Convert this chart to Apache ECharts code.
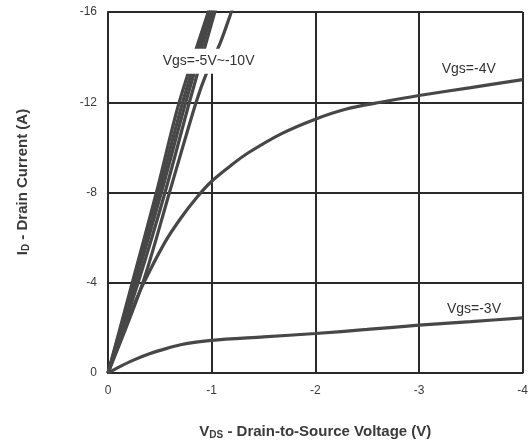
<!DOCTYPE html>
<html>
<head>
<meta charset="utf-8">
<script src="https://cdn.jsdelivr.net/npm/echarts@6/dist/echarts.min.js"></script>
<style>html,body{margin:0;padding:0;background:#fff}#c{width:531px;height:447px}</style>
</head>
<body>
<div id="c"></div>
<script>
// Tick labels (axis ranges)
var xTicks = [0, -1, -2, -3, -4];
var yTicks = [0, -4, -8, -12, -16];

// Output characteristics: [VDS (V), ID (A)]
var vgs10 = [[0,0],[-0.234,-4],[-0.467,-8],[-0.687,-12],[-0.967,-16],[-1.0,-16.5]];
var vgs8  = [[0,0],[-0.248,-4],[-0.49,-8],[-0.72,-12],[-0.985,-16],[-1.02,-16.5]];
var vgs7  = [[0,0],[-0.265,-4],[-0.515,-8],[-0.75,-12],[-1.005,-16],[-1.04,-16.5]];
var vgs6  = [[0,0],[-0.29,-4],[-0.55,-8],[-0.785,-12],[-1.03,-16],[-1.06,-16.5]];
var vgs5  = [[0,0],[-0.336,-4],[-0.593,-8],[-0.85,-12],[-0.96,-13.4],[-1.08,-14.6],[-1.19,-16],[-1.22,-16.4]];
var vgs4  = [[0,0],[-0.1,-1.25],[-0.2,-2.45],[-0.33,-3.85],[-0.55,-5.8],[-0.7,-6.85],[-0.86,-7.8],[-1.0,-8.5],
             [-1.2,-9.25],[-1.35,-9.75],[-1.67,-10.6],[-2.0,-11.25],[-2.3,-11.7],[-2.63,-12.0],[-3.0,-12.3],[-3.5,-12.65],[-4.0,-13.0]];
var vgs3  = [[0,0],[-0.1,-0.25],[-0.24,-0.56],[-0.4,-0.85],[-0.56,-1.08],[-0.7,-1.25],[-0.85,-1.37],[-1.0,-1.45],
             [-1.5,-1.6],[-2.0,-1.75],[-2.5,-1.93],[-3.0,-2.12],[-3.5,-2.28],[-4.0,-2.44]];
var labelNames = ['Vgs=-5V~-10V', 'Vgs=-4V', 'Vgs=-3V'];

var chart = echarts.init(document.getElementById('c'), null, {renderer: 'canvas'});
var lineColor = '#474747';
var gridColor = '#2a2a2a';
var titleColor = '#3a3a3a';
var font = 'Liberation Sans, Arial, sans-serif';

function curve(name, data) {
  return {
    name: name, type: 'line', data: data, smooth: 0.3, symbol: 'none', z: 2,
    lineStyle: {color: lineColor, width: 3.2}, silent: true
  };
}

var option = {
  animation: false,
  backgroundColor: '#fff',
  textStyle: {fontFamily: font},
  grid: {left: 108, right: 5, top: 12, bottom: 74, show: false},
  xAxis: {
    type: 'value', min: xTicks[4], max: xTicks[0], interval: 1, inverse: true,
    axisLine: {show: true, onZero: false, lineStyle: {color: gridColor, width: 2}},
    axisTick: {show: false},
    axisLabel: {fontSize: 12, color: '#3a3a3a', margin: 12, fontFamily: font},
    splitLine: {show: true, lineStyle: {color: gridColor, width: 2}},
    name: '{a|V}{s|DS}{a| - Drain-to-Source Voltage (V)}',
    nameLocation: 'middle', nameGap: 50,
    nameTextStyle: {
      rich: {
        a: {fontSize: 15, fontWeight: 'bold', color: titleColor, fontFamily: font},
        s: {fontSize: 10, fontWeight: 'bold', color: titleColor, fontFamily: font, verticalAlign: 'bottom', padding: [7, 0, 0, 0]}
      }
    }
  },
  yAxis: {
    type: 'value', min: yTicks[4], max: yTicks[0], interval: 4, inverse: true,
    axisLine: {show: true, onZero: false, lineStyle: {color: gridColor, width: 2}},
    axisTick: {show: false},
    axisLabel: {fontSize: 12, color: '#3a3a3a', margin: 11, fontFamily: font},
    splitLine: {show: true, lineStyle: {color: gridColor, width: 2}}
  },
  series: [
    {
      name: 'mask', type: 'line', data: [[0, 0]], symbol: 'none', z: 1, silent: true,
      lineStyle: {width: 0},
      markArea: {
        silent: true,
        itemStyle: {color: '#fff'},
        data: [[{coord: [-0.985, -15.93]}, {coord: [-1.015, -13.8]}]]
      }
    },
    curve('Vgs=-10V', vgs10),
    curve('Vgs=-8V', vgs8),
    curve('Vgs=-7V', vgs7),
    curve('Vgs=-6V', vgs6),
    curve('Vgs=-5V', vgs5),
    curve('Vgs=-4V', vgs4),
    curve('Vgs=-3V', vgs3)
  ]
};
chart.setOption(option);

// Annotation texts placed in data coordinates
var labelPos = [[-0.97, -13.82], [-3.48, -13.45], [-3.53, -2.83]];
var graphics = [{
  type: 'text', x: 23, y: 182, rotation: Math.PI / 2, z: 100,
  style: {
    text: '{a|I}{s|D}{a| - Drain Current (A)}',
    align: 'center', verticalAlign: 'middle',
    rich: {
      a: {fontSize: 15, fontWeight: 'bold', fill: titleColor, fontFamily: font},
      s: {fontSize: 10, fontWeight: 'bold', fill: titleColor, fontFamily: font, padding: [7, 0, 0, 0]}
    }
  }
}];
labelNames.forEach(function (n, i) {
  var p = chart.convertToPixel({gridIndex: 0}, labelPos[i]);
  var st = {text: n, x: 0, y: 0, align: 'center', verticalAlign: 'middle',
            fontSize: 14, fill: '#333', fontFamily: font};
  if (i === 0) { st.backgroundColor = '#fff'; st.padding = [6, 2, 5, 2]; }
  graphics.push({type: 'text', x: p[0], y: p[1], z: 100, style: st});
});
chart.setOption({graphic: graphics});
</script>
</body>
</html>
